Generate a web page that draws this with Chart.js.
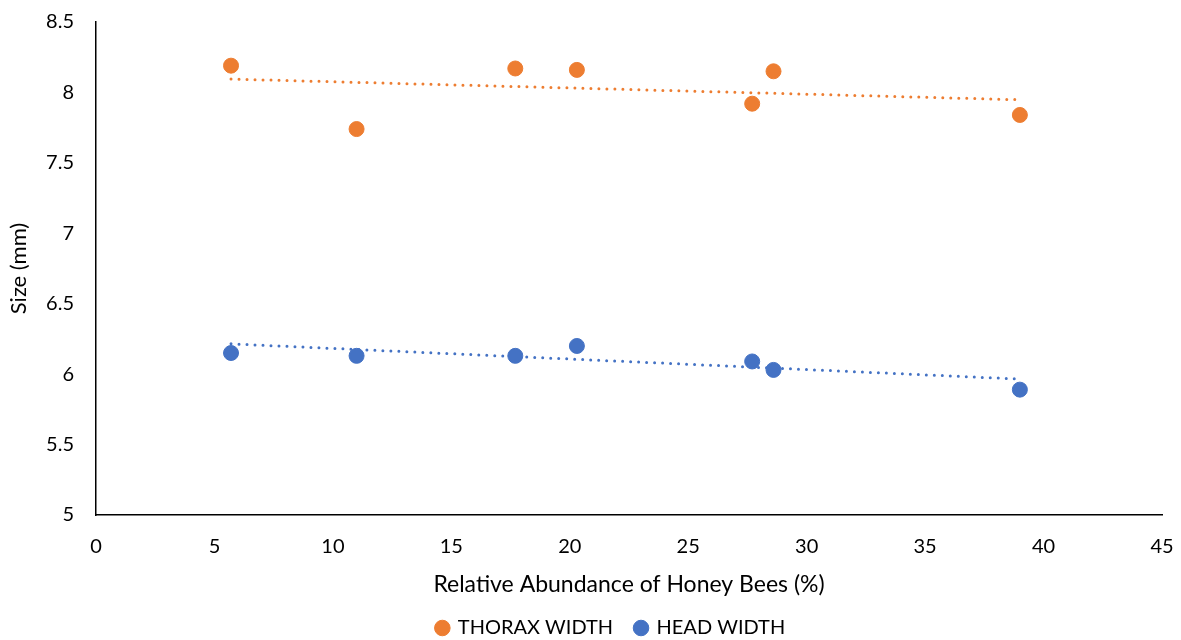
<!DOCTYPE html>
<html>
<head>
<meta charset="utf-8">
<script src="https://cdn.jsdelivr.net/npm/chart.js@4"></script>
<style>
  html, body { margin: 0; padding: 0; background: #fff; }
  #wrap { width: 1181px; height: 640px; }
</style>
</head>
<body>
<div id="wrap"><canvas id="bees"></canvas></div>
<script>
    // values
    const abundance = [5.7, 11.0, 17.7, 20.3, 27.7, 28.6, 39.0];
    const thoraxWidth = [8.19, 7.74, 8.17, 8.16, 7.92, 8.15, 7.84];
    const headWidth = [6.15, 6.13, 6.13, 6.20, 6.09, 6.03, 5.89];

    // trendline end points (dotted lines)
    const trendX = [5.7, 39.0];
    const thoraxTrend = [8.095, 7.948];
    const headTrend = [6.215, 5.965];

    const xTicks = [0, 5, 10, 15, 20, 25, 30, 35, 40, 45];
    const yTicks = [5, 5.5, 6, 6.5, 7, 7.5, 8, 8.5];

    const orange = '#ED7D31';
    const blue = '#4472C4';
    const fontFamily = 'Lato, "Open Sans", sans-serif';

    function toPoints(xs, ys) {
        return xs.map((x, i) => ({ x: x, y: ys[i] }));
    }

    const trendStyle = {
        type: 'line',
        showLine: true,
        pointRadius: 0,
        borderWidth: 3,
        borderDash: [0, 8],
        borderCapStyle: 'round',
        fill: false
    };

    // the legend in the reference sits a bit right of centre and low on the page
    const legendShift = {
        id: 'legendShift',
        afterLayout(chart) {
            const lg = chart.legend;
            lg.left += 30;
            lg.right += 30;
            lg.top += 8;
            lg.bottom += 8;
        }
    };

    const beeChart = new Chart(document.getElementById('bees'), {
        type: 'scatter',
        data: {
            datasets: [
                { label: 'THORAX WIDTH', data: toPoints(abundance, thoraxWidth), backgroundColor: orange, borderColor: orange, pointRadius: 7.5, pointHoverRadius: 7.5 },
                { label: 'HEAD WIDTH', data: toPoints(abundance, headWidth), backgroundColor: blue, borderColor: blue, pointRadius: 7.5, pointHoverRadius: 7.5 },
                Object.assign({ label: 'thorax trend', data: toPoints(trendX, thoraxTrend), borderColor: orange }, trendStyle),
                Object.assign({ label: 'head trend', data: toPoints(trendX, headTrend), borderColor: blue }, trendStyle)
            ]
        },
        plugins: [legendShift],
        options: {
            responsive: true,
            maintainAspectRatio: false,
            animation: false,
            layout: { padding: { top: 22, right: 19, left: 0, bottom: 0 } },
            plugins: {
                tooltip: { enabled: false },
                legend: {
                    position: 'bottom',
                    labels: {
                        usePointStyle: true,
                        pointStyle: 'circle',
                        boxWidth: 11,
                        boxHeight: 11,
                        padding: 2,
                        color: '#000',
                        font: { family: fontFamily, size: 20 },
                        generateLabels: chart => Chart.defaults.plugins.legend.labels.generateLabels(chart)
                            .filter(item => item.datasetIndex < 2)
                            .map(item => Object.assign(item, { text: item.datasetIndex === 0 ? item.text + '    ' : item.text }))
                    }
                }
            },
            scales: {
                x: {
                    type: 'linear',
                    min: 0,
                    max: 45,
                    afterBuildTicks: axis => { axis.ticks = xTicks.map(v => ({ value: v })); },
                    afterFit: axis => { axis.height = 93; axis.paddingLeft = 0; axis.paddingRight = 0; },
                    grid: { display: false, drawTicks: false },
                    border: { color: '#000', width: 1.5 },
                    ticks: { color: '#000', padding: 20, font: { family: fontFamily, size: 20 } },
                    title: {
                        display: true,
                        text: 'Relative Abundance of Honey Bees (%)',
                        color: '#000',
                        font: { family: fontFamily, size: 23 },
                        padding: { top: 10, bottom: 10 }
                    }
                },
                y: {
                    min: 5,
                    max: 8.5,
                    afterBuildTicks: axis => { axis.ticks = yTicks.map(v => ({ value: v })); },
                    afterFit: axis => { axis.width = 96; axis.paddingTop = 0; axis.paddingBottom = 0; },
                    grid: { display: false, drawTicks: false },
                    border: { color: '#000', width: 1.5 },
                    ticks: {
                        color: '#000',
                        padding: 22,
                        font: { family: fontFamily, size: 20 },
                        callback: value => String(value)
                    },
                    title: {
                        display: true,
                        text: 'Size (mm)',
                        color: '#000',
                        font: { family: fontFamily, size: 22 },
                        padding: { top: 6, bottom: 0 }
                    }
                }
            }
        }
    });
</script>
</body>
</html>
